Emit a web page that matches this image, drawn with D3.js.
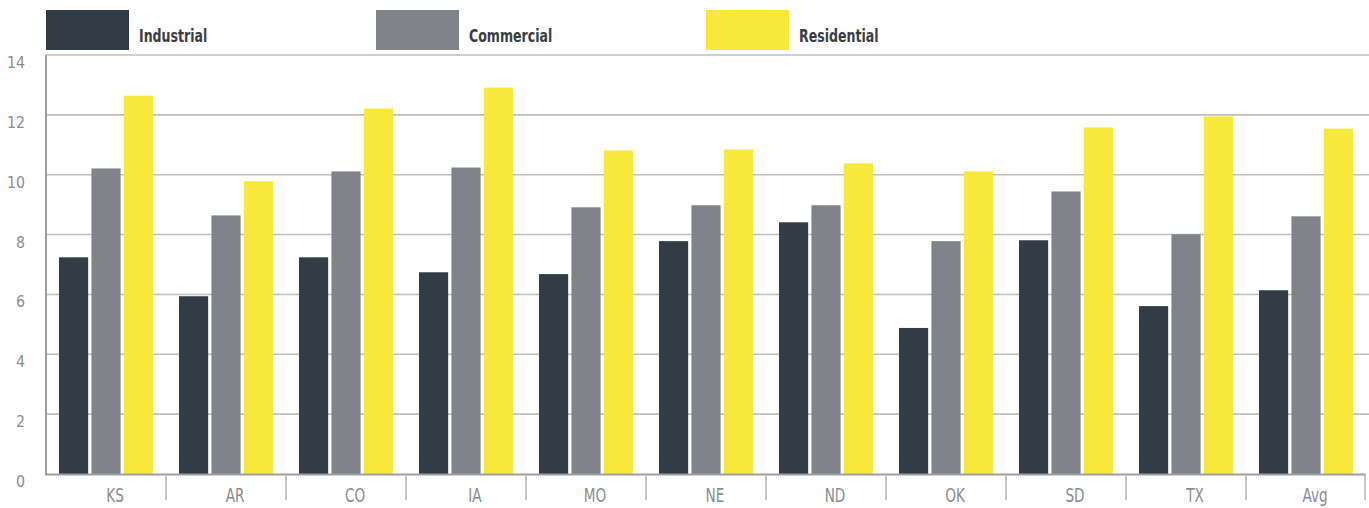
<!DOCTYPE html>
<html>
<head>
<meta charset="utf-8">
<script src="https://cdn.jsdelivr.net/npm/d3@7"></script>
<style>
  html, body { margin: 0; padding: 0; background: #ffffff; }
  svg { display: block; }
  text { font-family: "DejaVu Sans", "Liberation Sans", sans-serif; }
</style>
</head>
<body>
<svg id="chart" width="1369" height="508"></svg>
<script>
const categories = ["KS", "AR", "CO", "IA", "MO", "NE", "ND", "OK", "SD", "TX", "Avg"];
const seriesNames = ["Industrial", "Commercial", "Residential"];
const industrial  = [7.24, 5.94, 7.24, 6.74, 6.68, 7.78, 8.41, 4.88, 7.81, 5.61, 6.14];
const commercial  = [10.21, 8.64, 10.11, 10.24, 8.91, 8.98, 8.98, 7.78, 9.44, 8.01, 8.61];
const residential = [12.64, 9.78, 12.21, 12.91, 10.81, 10.84, 10.38, 10.11, 11.58, 11.95, 11.54];
const yTicks = [0, 2, 4, 6, 8, 10, 12, 14];
const colors = ["#313c46", "#80838a", "#f6e93c"];

const seriesValues = [industrial, commercial, residential];
const svg = d3.select("#chart");

const x = d3.scaleBand().domain(categories).range([46, 1366]).paddingInner(0).paddingOuter(0);
const xs = d3.scaleBand().domain(seriesNames).range([13, 107]).paddingInner(0.1).paddingOuter(0);
const y = d3.scaleLinear().domain([0, 14]).range([474, 55]);

// gridlines
svg.append("g").selectAll("line").data(yTicks.filter(t => t > 0)).join("line")
  .attr("x1", 46).attr("x2", 1369)
  .attr("y1", d => y(d)).attr("y2", d => y(d))
  .attr("stroke", "#bdbec2").attr("stroke-width", 1.6);

// y tick labels (condensed look)
svg.append("g").selectAll("text").data(yTicks).join("text")
  .attr("transform", d => `translate(25,${y(d) + 13}) scale(0.86,1)`)
  .attr("text-anchor", "end")
  .attr("font-size", 16.5)
  .attr("fill", "#8b8c91")
  .text(d => d);

// bars
const groups = svg.append("g").selectAll("g").data(categories).join("g")
  .attr("transform", d => `translate(${x(d)},0)`);
groups.selectAll("rect")
  .data((c, i) => seriesNames.map((s, k) => ({ s, k, v: seriesValues[k][i] })))
  .join("rect")
  .attr("x", d => xs(d.s))
  .attr("width", xs.bandwidth())
  .attr("y", d => y(d.v))
  .attr("height", d => y(0) - y(d.v))
  .attr("fill", d => colors[d.k]);

// left axis line
svg.append("line").attr("x1", 46).attr("x2", 46).attr("y1", 55).attr("y2", 475)
  .attr("stroke", "#9d9ea3").attr("stroke-width", 2);
// bottom axis line
svg.append("line").attr("x1", 45).attr("x2", 1366).attr("y1", y(0) + 0.5).attr("y2", y(0) + 0.5)
  .attr("stroke", "#9d9ea3").attr("stroke-width", 2);

// category separators
const seps = categories.slice(1).map(c => x(c)).concat([x.range()[1] - 1]);
svg.append("g").selectAll("line").data(seps).join("line")
  .attr("x1", d => d).attr("x2", d => d)
  .attr("y1", y(0)).attr("y2", 500)
  .attr("stroke", "#b3b4b8").attr("stroke-width", 1.5);

// category labels (condensed look)
svg.append("g").selectAll("text").data(categories).join("text")
  .attr("transform", d => `translate(${x(d) + x.bandwidth() / 2 + 9},502) scale(0.68,1)`)
  .attr("text-anchor", "middle")
  .attr("font-size", 20)
  .attr("fill", "#8b8c91")
  .text(d => d);

// legend
const legendX = [46, 376, 706];
const legend = svg.append("g").selectAll("g").data(seriesNames).join("g")
  .attr("transform", (d, i) => `translate(${legendX[i]},10)`);
legend.append("rect").attr("x", 0).attr("y", 0).attr("width", 83).attr("height", 40)
  .attr("fill", (d, i) => colors[i]);
legend.append("text")
  .attr("transform", "translate(93,32) scale(0.74,1)")
  .attr("font-size", 17).attr("font-weight", "bold")
  .attr("fill", "#3a3d42")
  .text(d => d);
</script>
</body>
</html>
